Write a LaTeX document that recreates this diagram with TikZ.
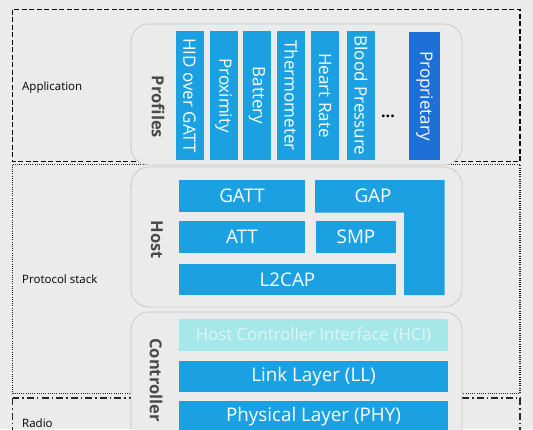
\documentclass[tikz,border=0pt]{standalone}
\usepackage{fontspec}
\setmainfont{Open Sans}
\definecolor{bg}{HTML}{EBEBEB}
\definecolor{barblue}{HTML}{1BA1E2}
\definecolor{propblue}{HTML}{1E70D6}
\definecolor{hcifill}{HTML}{A6E8EA}
\definecolor{hcitext}{HTML}{DCF6F7}
\definecolor{lblgray}{HTML}{4A4A4A}
\definecolor{framegray}{HTML}{A8A8A8}
\begin{document}
\begin{tikzpicture}[x=1pt,y=-1pt,
  frameapp/.style={draw=black, line width=1.3pt, dash pattern=on 5pt off 2.5pt},
  framestack/.style={draw=black!85, line width=1.3pt, dash pattern=on 1pt off 1.2pt},
  frameradio/.style={draw=black!85, line width=1.3pt, dash pattern=on 7pt off 3pt on 1.5pt off 3pt},
  groupbox/.style={draw=framegray, line width=0.7pt, dash pattern=on 1pt off 1pt, rounded corners=18pt, fill=bg},
  blk/.style={fill=barblue, text=white, inner sep=0pt, font=\fontsize{18.8}{20}\selectfont},
  prof/.style={fill=barblue, text=white, inner sep=0pt, minimum width=28pt, minimum height=129pt, font=\fontsize{17}{18}\selectfont},
  grplabel/.style={rotate=-90, text=lblgray, font=\bfseries\fontsize{16.5}{18}\selectfont, inner sep=0pt},
  sidelabel/.style={anchor=west, text=black, font=\fontsize{11.5}{13}\selectfont, inner sep=0pt}
]
\useasboundingbox (0,0) rectangle (533,429);
\fill[bg] (0,0) rectangle (533,429);

% outer frames
\draw[frameapp] (12.5,9.5) rectangle (520,161.5);
\draw[framestack] (12.5,164.5) rectangle (520,393.5);
\draw[frameradio] (12.5,398) rectangle (520,445);

% side labels
\node[sidelabel] (app) at (22,88) {Application};
\node[sidelabel] (stack) at (22,279) {Protocol stack};
\node[sidelabel] (radio) at (22,423) {Radio};

% group boxes
\draw[groupbox] (131,24) rectangle (462,165);
\draw[groupbox] (131,167) rectangle (462,307);
\draw[groupbox] (131,312) rectangle (462,460);

% group labels
\node[grplabel] (profiles) at (158,107) {Profiles};
\node[grplabel] (host) at (157,240) {Host};
\node[grplabel] (controller) at (156,380) {Controller};

% profiles
\node[prof] (hid) at (189.5,95.5) {\rotatebox{-90}{HID over GATT}};
\node[prof] (prox) at (223.5,95.5) {\rotatebox{-90}{Proximity}};
\node[prof] (batt) at (257,95.5) {\rotatebox{-90}{Battery}};
\node[prof] (therm) at (291,95.5) {\rotatebox{-90}{Thermometer}};
\node[prof] (heart) at (325,95.5) {\rotatebox{-90}{Heart Rate}};
\node[prof] (blood) at (361,95.5) {\rotatebox{-90}{Blood Pressure}};
\node[font=\bfseries\fontsize{16}{18}\selectfont, inner sep=0pt] (dots) at (388,116) {...};
\node[prof, fill=propblue, minimum width=31pt, minimum height=128pt] (propr) at (424.5,96) {\rotatebox{-90}{Proprietary}};

% host
\node[blk, minimum width=126pt, minimum height=32pt] (gatt) at (242,196) {GATT};
\fill[barblue] (315,180) -- (444.5,180) -- (444.5,295) -- (404,295) -- (404,212.5) -- (315,212.5) -- cycle;
\node[text=white, font=\fontsize{18.8}{20}\selectfont, inner sep=0pt] (gap) at (373,196) {GAP};
\node[blk, minimum width=126pt, minimum height=31.5pt] (att) at (242,236.75) {ATT};
\node[blk, minimum width=80pt, minimum height=31.5pt] (smp) at (356,236.75) {SMP};
\node[blk, minimum width=217pt, minimum height=31pt] (l2cap) at (287.5,279.5) {L2CAP};

% controller
\node[blk, fill=hcifill, text=hcitext, minimum width=269pt, minimum height=32pt, font=\fontsize{16.8}{18}\selectfont] (hci) at (313.5,335) {Host Controller Interface (HCI)};
\node[blk, minimum width=269pt, minimum height=31.5pt] (ll) at (313.5,376.25) {Link Layer (LL)};
\node[blk, minimum width=269pt, minimum height=32pt] (phy) at (313.5,417) {Physical Layer (PHY)};
\end{tikzpicture}
\end{document}
